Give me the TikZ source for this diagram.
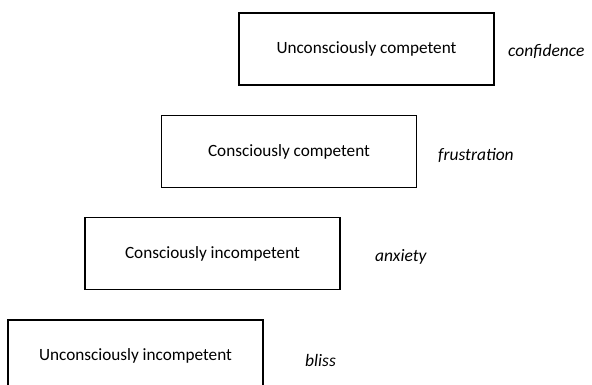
\documentclass[tikz,border=0pt]{standalone}
\usepackage{fontspec}
\setmainfont{Carlito}
\begin{document}
\begin{tikzpicture}[x=1pt,y=-1pt,
  stage/.style={draw=black,line width=1.3pt,minimum width=255pt,minimum height=72pt,inner sep=0pt,font=\fontsize{17.2}{20}\selectfont},
  feel/.style={anchor=west,inner sep=0pt,font=\fontsize{17.5}{20}\selectfont\itshape}]
\useasboundingbox (0,0) rectangle (592,385);
\clip (0,0) rectangle (592,385);
\node[stage] (uc) at (366.5,49) {Unconsciously competent};
\node[stage] (cc) at (289,151.5) {Consciously competent};
\node[stage] (ci) at (212.5,253.5) {Consciously incompetent};
\node[stage] (ui) at (135.5,356) {Unconsciously incompetent};
\node[feel] (conf) at (508,51) {confidence};
\node[feel] (frus) at (438,155) {frustration};
\node[feel] (anx) at (375,257) {anxiety};
\node[feel] (bl) at (305,360) {bliss};
\end{tikzpicture}
\end{document}
